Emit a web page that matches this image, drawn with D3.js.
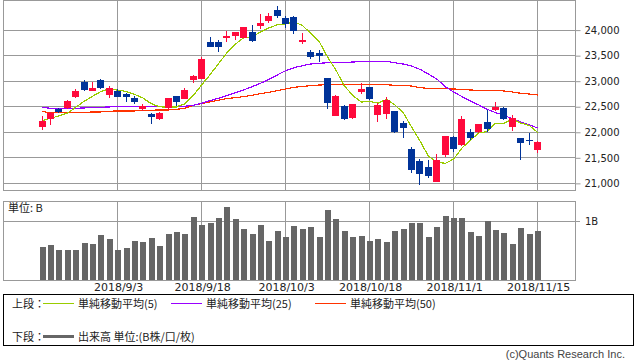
<!DOCTYPE html>
<html lang="ja">
<head>
<meta charset="utf-8">
<script src="https://d3js.org/d3.v7.min.js"></script>
<style>
  body { margin: 0; background: #fff; }
  text { fill: #222; }
</style>
</head>
<body>
<script>
// trading days shown on the chart
var dates = ["2018/8/21","2018/8/22","2018/8/23","2018/8/24","2018/8/27","2018/8/28","2018/8/29","2018/8/30","2018/8/31",
  "2018/9/3","2018/9/4","2018/9/5","2018/9/6","2018/9/7","2018/9/10","2018/9/11","2018/9/12","2018/9/13","2018/9/14",
  "2018/9/18","2018/9/19","2018/9/20","2018/9/21","2018/9/25","2018/9/26","2018/9/27","2018/9/28",
  "2018/10/1","2018/10/2","2018/10/3","2018/10/4","2018/10/5","2018/10/9","2018/10/10","2018/10/11","2018/10/12",
  "2018/10/15","2018/10/16","2018/10/17","2018/10/18","2018/10/19","2018/10/22","2018/10/23","2018/10/24","2018/10/25",
  "2018/10/26","2018/10/29","2018/10/30","2018/10/31","2018/11/1","2018/11/2","2018/11/5","2018/11/6","2018/11/7",
  "2018/11/8","2018/11/9","2018/11/12","2018/11/13","2018/11/14","2018/11/15"];

var open = [22101,22251,22446,22473,22688,22974,22805,23013,22726,22805,22740,22668,22453,22349,22245,22466,22701,22649,
  23013,23039,23749,23749,23847,23880,23840,23945,24075,24173,24381,24218,24238,23782,23567,23547,23052,22316,22505,22277,
  22779,22870,22330,22355,22408,22173,21665,21431,21320,21020,21548,21906,21743,21997,21997,22193,22427,22466,22101,21880,21841,21646];
var high = [22310,22395,22473,22622,22844,23013,22981,23033,22896,22831,22766,22701,22544,22375,22380,22670,22701,22857,
  23111,23469,23847,23795,23971,23950,24055,24088,24303,24316,24459,24264,24264,23925,23600,23600,23060,22720,22518,22550,
  22948,22875,22557,22675,22415,22219,21711,21470,21450,21567,21925,21910,22310,22062,22160,22427,22583,22479,22329,21885,21984,21815];
var low = [22036,22140,22375,22453,22668,22798,22800,22831,22662,22675,22590,22551,22414,22160,22240,22427,22505,22636,
  22961,23026,23660,23567,23762,23795,23835,23762,24010,24120,24218,24023,23912,23717,23430,23372,22453,22310,22232,22258,
  22740,22622,22199,22258,21984,21887,21190,20955,21086,21007,21515,21606,21730,21841,21984,21997,22408,22225,22023,21457,21750,21580];
var close = [22212,22375,22395,22603,22798,22811,22863,22863,22850,22688,22688,22577,22505,22297,22375,22662,22590,22818,
  23091,23417,23665,23665,23873,23945,24042,23782,24120,24264,24270,24107,23977,23795,23469,23489,22570,22701,22258,22544,
  22837,22642,22525,22622,21997,22082,21242,21164,21125,21450,21919,21672,22251,21887,22154,22062,22492,22245,22271,21789,21828,21802];

// volume, billions
var volume = [0.565,0.60,0.51,0.51,0.51,0.627,0.61,0.76,0.70,0.51,0.55,0.66,0.645,0.71,0.576,0.78,0.81,0.78,1.07,0.93,
  0.966,1.05,1.24,1.03,0.86,0.78,0.93,0.66,0.83,0.73,0.915,0.86,0.90,0.73,1.19,1.03,0.83,0.73,0.745,0.66,
  0.695,0.645,0.83,0.865,0.966,0.966,0.73,0.90,1.085,1.05,1.05,0.81,0.745,1.0,0.85,0.80,0.61,0.88,0.78,0.83];

// moving averages
var ma5 = [22219,22264,22310,22362,22477,22596,22694,22788,22837,22815,22790,22733,22662,22551,22488,22483,22486,22548,
  22707,22916,23116,23331,23542,23713,23838,23861,23952,24031,24096,24109,24148,24083,23924,23767,23460,23205,22897,22712,
  22582,22596,22561,22634,22525,22374,22094,21821,21522,21413,21380,21466,21683,21836,21977,22005,22169,22168,22245,22172,22125,21987];
var ma25 = [22479,22460,22453,22453,22460,22466,22473,22479,22486,22492,22499,22499,22499,22499,22492,22492,22492,22499,
  22518,22557,22609,22655,22707,22766,22818,22883,22948,23026,23111,23196,23254,23293,23326,23339,23352,23359,23359,23365,
  23378,23378,23378,23378,23352,23326,23287,23222,23131,23033,22883,22779,22688,22603,22525,22440,22375,22323,22251,22193,22134,22075];
var ma50 = [22395,22375,22375,22375,22375,22375,22388,22388,22401,22408,22408,22408,22414,22421,22427,22427,22440,22460,
  22518,22551,22583,22616,22649,22668,22688,22714,22746,22772,22805,22837,22870,22889,22902,22915,22922,22928,22928,22928,
  22928,22928,22928,22922,22909,22909,22896,22863,22850,22850,22844,22837,22831,22818,22811,22811,22811,22798,22779,22753,22740,22720];

var priceTicks = [21000,21500,22000,22500,23000,23500,24000];
var volTicks = [1];
var dateTicks = ["2018/9/3","2018/9/18","2018/10/3","2018/10/18","2018/11/1","2018/11/15"];

var W = 638, H = 362;
var left = 3, right = 575;
var mainTop = 0, mainBottom = 190;
var volTop = 201, volBottom = 280;
var grid = "#999";
var up = "#ff0a3c", down = "#003399";

var svg = d3.select("body").append("svg")
  .attr("width", W).attr("height", H)
  .style("font-family", "'DejaVu Sans', sans-serif");

var x = d3.scaleBand().domain(dates).range([37.8, 541.8]);
function cx(d) { return x(d) + x.bandwidth() / 2; }

var y = d3.scaleLinear().domain([20860, 24560]).range([mainBottom, 1]);
var yv = d3.scaleLinear().domain([0, 1.34]).range([volBottom, volTop]);

// ---- price panel ----
var main = svg.append("g");
main.append("g").selectAll("line").data(priceTicks).enter().append("line")
  .attr("x1", left).attr("x2", right)
  .attr("y1", function(d) { return Math.round(y(d)) + 0.5; })
  .attr("y2", function(d) { return Math.round(y(d)) + 0.5; })
  .attr("stroke", grid);
main.append("g").selectAll("line").data(dateTicks).enter().append("line")
  .attr("x1", function(d) { return Math.floor(cx(d)) + 0.5; })
  .attr("x2", function(d) { return Math.floor(cx(d)) + 0.5; })
  .attr("y1", mainTop).attr("y2", mainBottom)
  .attr("stroke", grid);
main.append("rect")
  .attr("x", left + 0.5).attr("y", mainTop + 0.5)
  .attr("width", right - left).attr("height", mainBottom - mainTop)
  .attr("fill", "none").attr("stroke", grid);

var yAxis = d3.axisRight(y).tickValues(priceTicks).tickSize(5).tickPadding(4)
  .tickFormat(d3.format(","));
main.append("g").attr("transform", "translate(" + (right + 0.5) + ",0.5)").call(yAxis)
  .call(function(g) {
    g.select(".domain").remove();
    g.selectAll(".tick line").attr("stroke", grid);
    g.selectAll(".tick text").attr("font-size", 10).attr("font-family", "'DejaVu Sans', sans-serif").style("fill", "#222");
  });

// moving averages
var lineOf = function(arr) {
  return d3.line()
    .x(function(d, i) { return cx(dates[i]); })
    .y(function(d) { return y(d); })(arr);
};
[[ma50, "#ff3300"], [ma25, "#9900ff"], [ma5, "#99cc00"]].forEach(function(s) {
  main.append("path")
    .attr("d", lineOf(s[0]))
    .attr("fill", "none").attr("stroke", s[1]).attr("stroke-width", 1.2)
    .attr("shape-rendering", "crispEdges");
});

// candles
var candles = main.append("g").selectAll("g").data(dates).enter().append("g");
candles.append("line")
  .attr("x1", function(d) { return Math.floor(cx(d)) + 0.5; })
  .attr("x2", function(d) { return Math.floor(cx(d)) + 0.5; })
  .attr("y1", function(d, i) { return y(high[i]); })
  .attr("y2", function(d, i) { return y(low[i]); })
  .attr("stroke", function(d, i) { return close[i] >= open[i] ? up : down; })
  .attr("shape-rendering", "crispEdges");
candles.append("rect")
  .attr("x", function(d) { return Math.floor(cx(d)) - 3; })
  .attr("width", 7)
  .attr("y", function(d, i) { return y(Math.max(open[i], close[i])); })
  .attr("height", function(d, i) { return Math.max(1.5, Math.abs(y(open[i]) - y(close[i]))); })
  .attr("fill", function(d, i) { return close[i] >= open[i] ? up : down; })
  .attr("shape-rendering", "crispEdges");

// ---- volume panel ----
var vol = svg.append("g");
vol.append("g").selectAll("line").data(volTicks).enter().append("line")
  .attr("x1", left).attr("x2", right + 5)
  .attr("y1", function(d) { return Math.round(yv(d)) + 0.5; })
  .attr("y2", function(d) { return Math.round(yv(d)) + 0.5; })
  .attr("stroke", grid);
vol.append("g").selectAll("line").data(dateTicks).enter().append("line")
  .attr("x1", function(d) { return Math.floor(cx(d)) + 0.5; })
  .attr("x2", function(d) { return Math.floor(cx(d)) + 0.5; })
  .attr("y1", volTop).attr("y2", volBottom)
  .attr("stroke", grid);
vol.append("g").selectAll("rect").data(dates).enter().append("rect")
  .attr("x", function(d) { return Math.floor(cx(d)) - 2; })
  .attr("width", 6)
  .attr("y", function(d, i) { return yv(volume[i]); })
  .attr("height", function(d, i) { return volBottom - yv(volume[i]); })
  .attr("fill", "#666")
  .attr("shape-rendering", "crispEdges");
vol.append("rect")
  .attr("x", left + 0.5).attr("y", volTop + 0.5)
  .attr("width", right - left).attr("height", volBottom - volTop)
  .attr("fill", "none").attr("stroke", grid);
vol.selectAll(".vl").data(volTicks).enter().append("text")
  .attr("x", 585).attr("y", function(d) { return yv(d); })
  .attr("dy", "0.35em").attr("font-size", 10)
  .text(function(d) { return d + "B"; });
vol.append("text")
  .attr("x", 8).attr("y", 208).attr("dy", "0.35em")
  .attr("font-size", 11).attr("font-family", "'Noto Sans CJK JP', sans-serif")
  .text("単位: B");

// date labels
svg.append("g").selectAll("text").data(dateTicks).enter().append("text")
  .attr("x", function(d) { return cx(d) + 1; })
  .attr("y", 291)
  .attr("text-anchor", "middle")
  .attr("font-size", 11)
  .text(function(d) { return d; });

// ---- legend ----
var lg = svg.append("g").style("font-family", "'Noto Sans CJK JP', sans-serif").attr("font-size", 11);
lg.append("rect").attr("x", 3.5).attr("y", 294.5).attr("width", 630).attr("height", 51)
  .attr("fill", "none").attr("stroke", "#000");
var legendItems = [
  { x: 43, y: 303.5, color: "#99cc00", w: 1, label: "単純移動平均(5)" },
  { x: 171, y: 303.5, color: "#9900ff", w: 1, label: "単純移動平均(25)" },
  { x: 315, y: 303.5, color: "#ff3300", w: 1, label: "単純移動平均(50)" },
  { x: 43, y: 336.5, color: "#666", w: 3, label: "出来高 単位:(B株/口/枚)" }
];
lg.append("text").attr("x", 12).attr("y", 304).attr("dy", "0.35em").text("上段：");
lg.append("text").attr("x", 12).attr("y", 337).attr("dy", "0.35em").text("下段：");
legendItems.forEach(function(it) {
  lg.append("line").attr("x1", it.x).attr("x2", it.x + 31)
    .attr("y1", it.y).attr("y2", it.y)
    .attr("stroke", it.color).attr("stroke-width", it.w);
  lg.append("text").attr("x", it.x + 35).attr("y", it.y + 0.5).attr("dy", "0.35em").text(it.label);
});

svg.append("text")
  .attr("x", 625).attr("y", 354).attr("dy", "0.35em")
  .attr("text-anchor", "end")
  .attr("font-size", 11).attr("font-family", "'Liberation Sans', sans-serif")
  .style("fill", "#444")
  .text("(c)Quants Research Inc.");
</script>
</body>
</html>
